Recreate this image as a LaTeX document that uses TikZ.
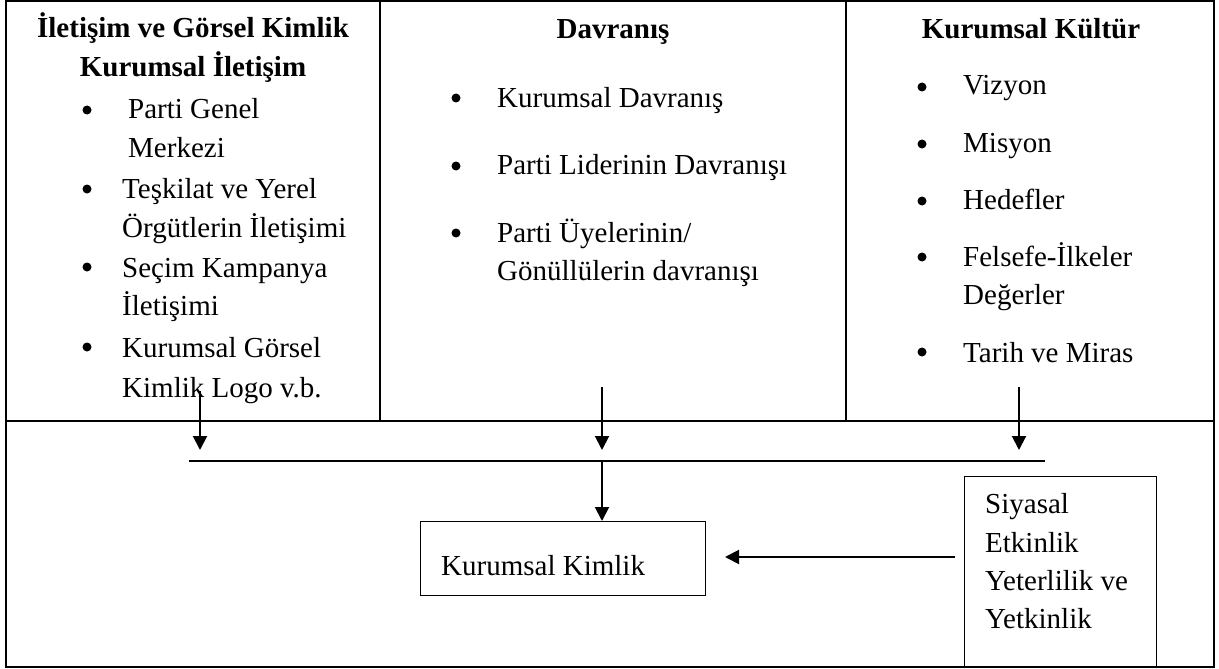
\documentclass[tikz,border=0pt]{standalone}
\usepackage{fontspec}
\setmainfont{Liberation Serif}
\usetikzlibrary{arrows.meta}

\begin{document}
\begin{tikzpicture}[x=1pt,y=-1pt,
  frame/.style={line width=1.3pt},
  txt/.style={anchor=base west, inner sep=0pt, font=\fontsize{29}{38.7}\selectfont},
  hdr/.style={anchor=base, inner sep=0pt, font=\fontsize{29}{38.7}\selectfont\bfseries},
  dot/.style={circle, fill=black, inner sep=0pt, minimum size=9pt},
  box/.style={draw, line width=1.3pt, inner sep=0pt},
  flow/.style={line width=2pt, -{Triangle[length=14pt,width=14pt]}},
  bar/.style={line width=1.5pt}]

\useasboundingbox (0,0) rectangle (1219,669);

% table frame: three cells on top, one wide cell below
\draw[frame] (6,1) rectangle (1214,667);
\draw[frame] (6,421) -- (1214,421);
\draw[frame] (380,1) -- (380,421);
\draw[frame] (846,1) -- (846,421);

% left cell: communication and visual identity
\node[hdr] (h1a) at (193,38) {İletişim ve Görsel Kimlik};
\node[hdr] (h1b) at (193,77) {Kurumsal İletişim};
\node[dot] (b11) at (87,110) {};
\node[txt] (t11a) at (128,118) {Parti Genel};
\node[txt] (t11b) at (128,157) {Merkezi};
\node[dot] (b12) at (87,189) {};
\node[txt] (t12a) at (122,198) {Teşkilat ve Yerel};
\node[txt] (t12b) at (122,237) {Örgütlerin İletişimi};
\node[dot] (b13) at (87,267) {};
\node[txt] (t13a) at (122,277) {Seçim Kampanya};
\node[txt] (t13b) at (122,315) {İletişimi};
\node[dot] (b14) at (87,347) {};
\node[txt] (t14a) at (122,357) {Kurumsal Görsel};
\node[txt] (t14b) at (122,397) {Kimlik Logo v.b.};

% middle cell: behaviour
\node[hdr] (h2) at (613,39) {Davranış};
\node[dot] (b21) at (456,98) {};
\node[txt] (t21) at (497,107) {Kurumsal Davranış};
\node[dot] (b22) at (456,166) {};
\node[txt] (t22) at (497,174) {Parti Liderinin Davranışı};
\node[dot] (b23) at (456,233) {};
\node[txt] (t23a) at (497,242) {Parti Üyelerinin/};
\node[txt] (t23b) at (497,280) {Gönüllülerin davranışı};

% right cell: corporate culture
\node[hdr] (h3) at (1031,39) {Kurumsal Kültür};
\node[dot] (b31) at (922,87) {};
\node[txt] (t31) at (963,95) {Vizyon};
\node[dot] (b32) at (922,144) {};
\node[txt] (t32) at (963,152) {Misyon};
\node[dot] (b33) at (922,201) {};
\node[txt] (t33) at (963,209) {Hedefler};
\node[dot] (b34) at (922,257) {};
\node[txt] (t34a) at (963,266) {Felsefe-İlkeler};
\node[txt] (t34b) at (963,304) {Değerler};
\node[dot] (b35) at (922,352) {};
\node[txt] (t35) at (963,362) {Tarih ve Miras};

% lower cell boxes
\node[box, anchor=north west, minimum width=285pt, minimum height=74pt] (kimlik) at (420,521) {};
\node[txt] (tk) at (441,575) {Kurumsal Kimlik};
\node[box, anchor=north west, minimum width=192pt, minimum height=191pt] (siyasal) at (964,476) {};
\node[txt] (ts1) at (985,513) {Siyasal};
\node[txt] (ts2) at (985,552) {Etkinlik};
\node[txt] (ts3) at (985,590) {Yeterlilik ve};
\node[txt] (ts4) at (985,628) {Yetkinlik};

% arrows from the three cells down to the collecting bar
\coordinate (s1) at (200,391);  \coordinate (e1) at (200,450);
\coordinate (s2) at (602,387);  \coordinate (e2) at (602,450);
\coordinate (s3) at (1019,387); \coordinate (e3) at (1019,450);
\draw[flow] (s1) -- (e1);
\draw[flow] (s2) -- (e2);
\draw[flow] (s3) -- (e3);

% collecting bar and its arrow to the identity box
\coordinate (barL) at (189,461);
\coordinate (barR) at (1045,461);
\coordinate (barM) at (602,461);
\draw[bar] (barL) -- (barR);
\draw[flow] (barM) -- (barM |- kimlik.north);

% arrow from political effectiveness towards identity
\coordinate (hs) at (955,557);
\coordinate (he) at (725,557);
\draw[flow] (hs) -- (he);
\end{tikzpicture}
\end{document}
